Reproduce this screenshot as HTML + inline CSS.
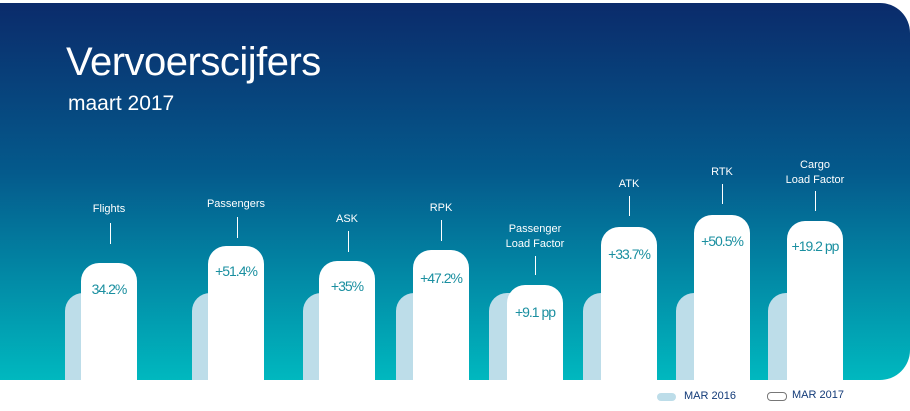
<!DOCTYPE html><html><head><style>
body{margin:0;width:910px;height:411px;background:#fff;position:relative;overflow:hidden;font-family:"Liberation Sans",sans-serif}
#p{position:absolute;left:0;top:3px;width:910px;height:377px;border-radius:0 30px 30px 0;background:linear-gradient(#0b2b6b 0%,#045a8c 45%,#00b8bf 100%)}
.t{position:absolute;color:#fff}
.lb{position:absolute;width:56px;background:#bddde9;border-radius:18px 18px 0 0;bottom:31px;height:87px}
.wb{position:absolute;width:56px;background:#fff;border-radius:18px 18px 0 0;bottom:31px}
.v{position:absolute;width:80px;text-align:center;color:#1a8fa0;font-size:14px;letter-spacing:-1px}
.l{position:absolute;width:100px;text-align:center;color:#fff;font-size:11px;line-height:15px}
.k{position:absolute;width:1px;background:#fff}
</style></head><body>
<div id="p"></div>
<div class="t" style="left:66px;top:40px;font-size:40px;letter-spacing:-0.5px">Vervoerscijfers</div>
<div class="t" style="left:68px;top:92px;font-size:21px">maart 2017</div>
<div class="lb" style="left:65px"></div><div class="wb" style="left:81px;top:263px"></div>
<div class="lb" style="left:192px"></div><div class="wb" style="left:208px;top:246px"></div>
<div class="lb" style="left:303px"></div><div class="wb" style="left:319px;top:261px"></div>
<div class="lb" style="left:396px"></div><div class="wb" style="left:413px;top:250px"></div>
<div class="lb" style="left:489px"></div><div class="wb" style="left:507px;top:285px"></div>
<div class="lb" style="left:583px"></div><div class="wb" style="left:601px;top:227px"></div>
<div class="lb" style="left:676px"></div><div class="wb" style="left:694px;top:215px"></div>
<div class="lb" style="left:768px"></div><div class="wb" style="left:787px;top:221px"></div>
<div class="v" style="left:69px;top:281px">34.2%</div>
<div class="v" style="left:196px;top:263px">+51.4%</div>
<div class="v" style="left:307px;top:278px">+35%</div>
<div class="v" style="left:401px;top:270px">+47.2%</div>
<div class="v" style="left:495px;top:304px">+9.1 pp</div>
<div class="v" style="left:589px;top:246px">+33.7%</div>
<div class="v" style="left:682px;top:233px">+50.5%</div>
<div class="v" style="left:775px;top:238px">+19.2 pp</div>
<div class="l" style="left:59px;top:202px">Flights</div><div class="k" style="left:110px;top:223px;height:21px"></div>
<div class="l" style="left:186px;top:197px">Passengers</div><div class="k" style="left:237px;top:217px;height:21px"></div>
<div class="l" style="left:297px;top:212px">ASK</div><div class="k" style="left:348px;top:231px;height:21px"></div>
<div class="l" style="left:391px;top:201px">RPK</div><div class="k" style="left:441px;top:220px;height:21px"></div>
<div class="l" style="left:485px;top:222px">Passenger<br>Load Factor</div><div class="k" style="left:535px;top:256px;height:19px"></div>
<div class="l" style="left:579px;top:177px">ATK</div><div class="k" style="left:629px;top:196px;height:20px"></div>
<div class="l" style="left:672px;top:165px">RTK</div><div class="k" style="left:722px;top:184px;height:20px"></div>
<div class="l" style="left:765px;top:158px">Cargo<br>Load Factor</div><div class="k" style="left:815px;top:191px;height:20px"></div>
<div style="position:absolute;left:657px;top:393px;width:19px;height:8px;border-radius:4px;background:#bddde9"></div>
<div style="position:absolute;left:684px;top:390px;font-size:11px;color:#123a78">MAR 2016</div>
<div style="position:absolute;left:767px;top:392px;width:18px;height:7px;border-radius:4px;border:1px solid #777;background:#fff"></div>
<div style="position:absolute;left:792px;top:389px;font-size:11px;color:#123a78">MAR 2017</div>
</body></html>
